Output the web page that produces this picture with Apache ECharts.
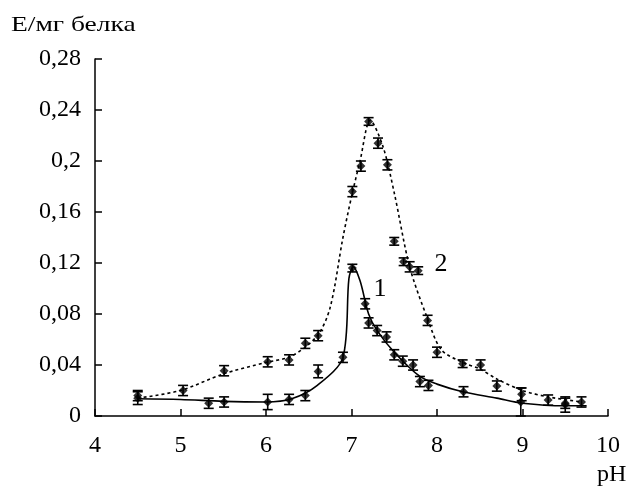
<!DOCTYPE html>
<html><head><meta charset="utf-8">
<script src="https://cdn.jsdelivr.net/npm/echarts@6/dist/echarts.min.js"></script>
<style>html,body{margin:0;padding:0;background:#fff}#c{width:629px;height:488px}</style>
</head><body><div id="c"></div>
<script>
// Series 1 (solid) measured points
const s1X = [4.5, 5.33, 5.51, 6.02, 6.27, 6.46, 6.61, 6.9, 7.01, 7.16, 7.2, 7.3, 7.41, 7.5, 7.6, 7.72, 7.8, 7.9, 8.31, 8.98, 9.5];
const s1Y = [0.014, 0.010, 0.011, 0.011, 0.013, 0.016, 0.035, 0.046, 0.116, 0.088, 0.073, 0.067, 0.062, 0.048, 0.043, 0.040, 0.027, 0.024, 0.019, 0.011, 0.009];
const s1Err = [0.005, 0.004, 0.004, 0.006, 0.004, 0.004, 0.005, 0.004, 0.003, 0.004, 0.004, 0.004, 0.004, 0.004, 0.004, 0.004, 0.004, 0.004, 0.004, 0.011, 0.006];
// Series 2 (dotted) measured points
const s2X = [4.5, 5.03, 5.51, 6.02, 6.27, 6.46, 6.61, 7.01, 7.11, 7.2, 7.31, 7.42, 7.5, 7.61, 7.68, 7.78, 7.89, 8.0, 8.3, 8.51, 8.7, 8.99, 9.3, 9.5, 9.69];
const s2Y = [0.016, 0.020, 0.0355, 0.0425, 0.044, 0.057, 0.063, 0.176, 0.196, 0.231, 0.214, 0.197, 0.137, 0.121, 0.117, 0.114, 0.075, 0.050, 0.041, 0.040, 0.0235, 0.017, 0.0125, 0.010, 0.011];
const s2Err = [0.004, 0.004, 0.004, 0.004, 0.004, 0.004, 0.004, 0.004, 0.004, 0.003, 0.004, 0.004, 0.003, 0.003, 0.004, 0.003, 0.004, 0.004, 0.003, 0.004, 0.004, 0.005, 0.004, 0.004, 0.004];
// Fitted curves
const c1X = [4.5, 5.0, 5.5, 6.0, 6.3, 6.6, 6.9, 6.97, 7.02, 7.1, 7.2, 7.3, 7.5, 7.8, 8.0, 8.3, 8.7, 9.0, 9.5, 9.75];
const c1Y = [0.0135, 0.013, 0.0115, 0.011, 0.0135, 0.024, 0.046, 0.108, 0.117, 0.106, 0.080, 0.067, 0.050, 0.031, 0.025, 0.019, 0.014, 0.010, 0.008, 0.008];
const c2X = [4.5, 5.0, 5.5, 6.0, 6.3, 6.6, 6.75, 6.9, 7.0, 7.1, 7.22, 7.37, 7.5, 7.68, 7.88, 8.05, 8.3, 8.5, 8.7, 9.0, 9.3, 9.69];
const c2Y = [0.014, 0.020, 0.033, 0.042, 0.047, 0.063, 0.085, 0.140, 0.172, 0.200, 0.232, 0.211, 0.175, 0.117, 0.078, 0.052, 0.042, 0.037, 0.029, 0.020, 0.015, 0.011];
const xTicks = [4, 5, 6, 7, 8, 9, 10];
const yTicks = [0, 0.04, 0.08, 0.12, 0.16, 0.2, 0.24, 0.28];
const labelText = ['1', '2'];
const labelX = [7.33, 8.05];
const labelY = [0.100, 0.119];

const zip = (a, b) => a.map((v, i) => [v, b[i]]);
const errData = (xs, ys, es) => xs.map((v, i) => [v, ys[i] - es[i], ys[i] + es[i]]);
const font = '"Liberation Serif", "Times New Roman", serif';

function errRender(params, api) {
  const x = api.value(0);
  const lo = api.coord([x, Math.max(0, api.value(1))]);
  const hi = api.coord([x, api.value(2)]);
  const w = 5;
  const st = {stroke: '#000', lineWidth: 1.6};
  return {type: 'group', children: [
    {type: 'line', shape: {x1: lo[0], y1: lo[1], x2: hi[0], y2: hi[1]}, style: st},
    {type: 'line', shape: {x1: lo[0] - w, y1: lo[1], x2: lo[0] + w, y2: lo[1]}, style: st},
    {type: 'line', shape: {x1: hi[0] - w, y1: hi[1], x2: hi[0] + w, y2: hi[1]}, style: st}
  ]};
}

const chart = echarts.init(document.getElementById('c'), null, {renderer: 'canvas'});
chart.setOption({
  animation: false,
  backgroundColor: '#fff',
  grid: {left: 95, right: 21, top: 59, bottom: 72},
  xAxis: {
    type: 'value', min: 4, max: 10, interval: 1,
    axisLine: {lineStyle: {color: '#000', width: 1.5}},
    axisTick: {inside: true, length: 7, lineStyle: {color: '#000', width: 1.5}},
    splitLine: {show: false},
    axisLabel: {color: '#000', fontFamily: font, fontSize: 24, margin: 18,
      formatter: v => xTicks.includes(v) ? String(v) : ''}
  },
  yAxis: {
    type: 'value', min: 0, max: 0.28, interval: 0.04,
    axisLine: {show: true, lineStyle: {color: '#000', width: 1.5}},
    axisTick: {show: true, inside: true, length: 7, lineStyle: {color: '#000', width: 1.5}},
    splitLine: {show: false},
    axisLabel: {color: '#000', fontFamily: font, fontSize: 24, margin: 14,
      formatter: v => {
        const t = yTicks.find(k => Math.abs(k - v) < 1e-9);
        return t === undefined ? '' : String(+t.toFixed(2)).replace('.', ',');
      }}
  },
  series: [
    {type: 'line', data: zip(c2X, c2Y), smooth: 0.3, symbol: 'none',
     lineStyle: {color: '#000', width: 1.6, type: [3, 3]}, z: 2},
    {type: 'line', data: zip(c1X, c1Y), smooth: 0.3, symbol: 'none',
     lineStyle: {color: '#000', width: 1.6}, z: 2},
    {type: 'custom', renderItem: errRender, data: errData(s1X, s1Y, s1Err), encode: {x: 0, y: [1, 2]}, z: 3},
    {type: 'custom', renderItem: errRender, data: errData(s2X, s2Y, s2Err), encode: {x: 0, y: [1, 2]}, z: 3},
    {type: 'scatter', data: zip(s1X, s1Y), symbol: 'diamond', symbolSize: 9, itemStyle: {color: '#000'}, z: 4},
    {type: 'scatter', data: zip(s2X, s2Y), symbol: 'diamond', symbolSize: 9, itemStyle: {color: '#000'}, z: 4}
  ]
});
const g = [
  {type: 'text', left: 11, top: 14, scaleX: 1.25, style: {text: 'Е/мг белка', font: '22px ' + font, fill: '#000'}},
  {type: 'text', left: 597, top: 463, style: {text: 'pH', font: '24px ' + font, fill: '#000'}}
];
labelText.forEach((t, i) => {
  const p = chart.convertToPixel({gridIndex: 0}, [labelX[i], labelY[i]]);
  g.push({type: 'text', x: Math.round(p[0]), y: Math.round(p[1]), z: 10,
    style: {text: t, font: '26px ' + font, fill: '#000', opacity: 1, align: 'center', verticalAlign: 'middle'}});
});
chart.setOption({graphic: g});
</script></body></html>
